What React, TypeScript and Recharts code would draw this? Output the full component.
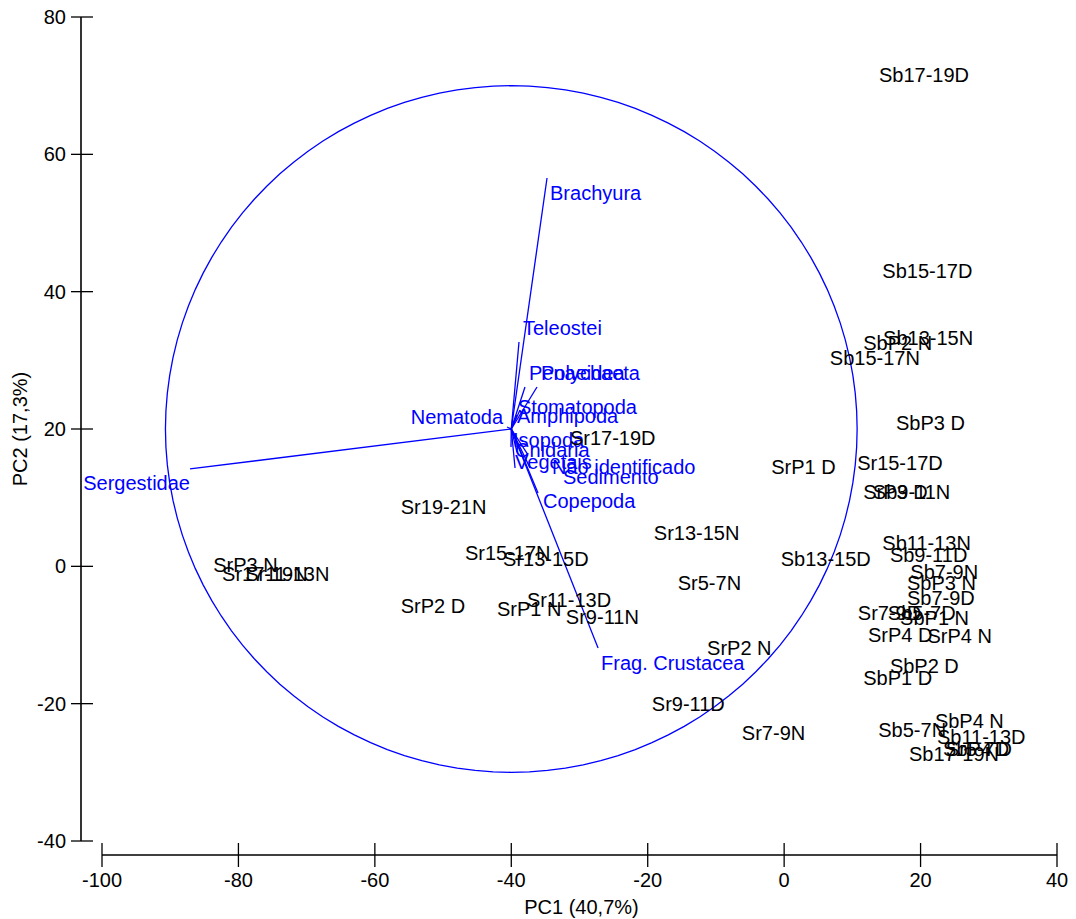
import React from 'react';
import { ScatterChart, Scatter, XAxis, YAxis, ReferenceLine } from 'recharts';

// ---- Sample scores (PC1, PC2) ----
const sampleNames = [
  'Sb17-19D', 'Sb15-17D', 'Sb13-15N', 'SbP2 N', 'Sb15-17N', 'SbP3 D', 'Sr15-17D', 'SrP3 D',
  'Sb9-11N', 'SrP1 D', 'Sr17-19D', 'Sr19-21N', 'Sr13-15N', 'Sb13-15D', 'Sb11-13N', 'Sb9-11D',
  'Sb7-9N', 'SbP3 N', 'Sb7-9D', 'Sr7-9D', 'Sb5-7D', 'SbP1 N', 'SrP4 D', 'SrP4 N',
  'SbP2 D', 'SbP1 D', 'SbP4 N', 'Sb5-7N', 'Sb11-13D', 'Sb17-19N', 'SbP4 D', 'Sr5-7D',
  'SrP3 N', 'Sr17-19N', 'Sr11-13N', 'SrP2 D', 'Sr15-17N', 'Sr13-15D', 'Sr11-13D', 'SrP1 N',
  'Sr9-11N', 'Sr5-7N', 'SrP2 N', 'Sr9-11D', 'Sr7-9N',
];
const samplePC1 = [
  13.9, 14.4, 14.5, 11.6, 6.7, 16.4, 10.7, 11.6,
  13.0, -1.9, -31.4, -56.2, -19.1, -0.5, 14.4, 15.5,
  18.5, 18.0, 18.0, 10.8, 15.2, 17.0, 12.3, 21.0,
  15.5, 11.6, 22.1, 13.8, 22.4, 18.3, 23.3, 23.7,
  -83.7, -82.4, -79.0, -56.2, -46.8, -41.2, -37.7, -42.1,
  -32.0, -15.6, -11.3, -19.4, -6.2,
];
const samplePC2 = [
  71.6, 43.0, 33.3, 32.5, 30.3, 20.9, 15.1, 10.8,
  10.8, 14.5, 18.7, 8.6, 4.9, 1.1, 3.4, 1.7,
  -0.8, -2.4, -4.6, -6.8, -6.8, -7.5, -10.0, -10.1,
  -14.5, -16.3, -22.5, -23.8, -24.8, -27.3, -26.6, -26.6,
  0.2, -1.1, -1.1, -5.8, 2.0, 1.1, -4.9, -6.2,
  -7.4, -2.4, -11.9, -20.0, -24.3,
];

// ---- Variable vectors (end points, drawn from the circle centre) ----
const variableNames = [
  'Sergestidae', 'Brachyura', 'Teleostei', 'Penaeidea', 'Polychaeta', 'Stomatopoda', 'Amphipoda',
  'Nematoda', 'Isopoda', 'Cnidaria', 'Vegetais', 'Não identificado', 'Sedimento', 'Copepoda',
  'Frag. Crustacea',
];
const variablePC1 = [
  -87.1, -34.76, -38.87, -37.99, -36.23, -38.72, -39.16,
  -40.62, -40.04, -39.16, -39.45, -37.55, -37.25, -36.08,
  -27.28,
];
const variablePC2 = [
  14.18, 56.55, 32.67, 26.12, 26.12, 22.77, 22.04,
  20.29, 17.38, 16.65, 14.32, 16.22, 14.32, 10.68,
  -11.89,
];

// ---- Correlation circle ----
const circleCenterPC1 = -40;
const circleCenterPC2 = 20;
const circleRadiusPC1 = 50.7;
const circleRadiusPC2 = 50;

// ---- Axes ----
const xTicks = [-100, -80, -60, -40, -20, 0, 20, 40];
const yTicks = [-40, -20, 0, 20, 40, 60, 80];
const xTitle = 'PC1 (40,7%)';
const yTitle = 'PC2 (17,3%)';

// ---- styles ----
const BLUE = '#0000ff';
const FONT = '"Liberation Sans", Arial, Helvetica, sans-serif';
const FS = 20;
const X_PAD = 21;
const Y_PAD = 14;

// label placement for each vector label: [dx, dy, anchor]
const vectorLabelStyle: [number, number, 'start' | 'end'][] = [
  [0, 14, 'end'], [3, 15, 'start'], [4, -14, 'start'], [4, -14, 'start'], [4, -14, 'start'],
  [-2, -3, 'start'], [0, 1, 'start'], [-4, -10, 'end'], [2, -7, 'start'], [-2, -2, 'start'],
  [0, -6, 'start'], [24, 12, 'start'], [33, 9, 'start'], [5, 8, 'start'], [3, 15, 'start'],
];

const sampleData = sampleNames.map((name, i) => ({ name, x: samplePC1[i], y: samplePC2[i] }));
const variableData = variableNames.map((name, i) => ({ name, i, x: variablePC1[i], y: variablePC2[i] }));
const circleData = Array.from({ length: 121 }, (_, k) => {
  const a = (k / 120) * 2 * Math.PI;
  return { x: circleCenterPC1 + circleRadiusPC1 * Math.cos(a), y: circleCenterPC2 + circleRadiusPC2 * Math.sin(a) };
});

const SampleLabel = (props: any) => {
  const { cx, cy, payload } = props;
  return (
    <text x={cx} y={cy} dominantBaseline="central" fontFamily={FONT} fontSize={FS} fill="#000">
      {payload.name}
    </text>
  );
};

const VariableLabel = (props: any) => {
  const { cx, cy, payload } = props;
  const [dx, dy, anchor] = vectorLabelStyle[payload.i];
  return (
    <text x={cx + dx} y={cy + dy} textAnchor={anchor} dominantBaseline="central" fontFamily={FONT} fontSize={FS} fill={BLUE}>
      {payload.name}
    </text>
  );
};

const XTick = (props: any) => {
  const { x, y, payload } = props;
  return (
    <g>
      <line x1={x} x2={x} y1={y - 26} y2={y - 2} stroke="#000" strokeWidth={1.3} />
      <text x={x} y={y + 11} textAnchor="middle" dominantBaseline="central" fontFamily={FONT} fontSize={FS} fill="#000">
        {payload.value}
      </text>
    </g>
  );
};

const YTick = (props: any) => {
  const { x, y, payload } = props;
  return (
    <g>
      <line x1={x + 4} x2={x + 26} y1={y} y2={y} stroke="#000" strokeWidth={1.3} />
      <text x={x - 1} y={y} textAnchor="end" dominantBaseline="central" fontFamily={FONT} fontSize={FS} fill="#000">
        {payload.value}
      </text>
    </g>
  );
};

const XTitle = (props: any) => {
  const vb = props.viewBox || { x: 81, y: 855, width: 976, height: 64 };
  return (
    <text x={vb.x + X_PAD + (vb.width - X_PAD) / 2 + 2} y={vb.y + 52} textAnchor="middle" dominantBaseline="central" fontFamily={FONT} fontSize={FS} fill="#000">
      {xTitle}
    </text>
  );
};

const YTitle = (props: any) => {
  const vb = props.viewBox || { x: 0, y: 17, width: 81, height: 838 };
  const cx = vb.x + 20;
  const cy = vb.y + (vb.height - Y_PAD) / 2;
  return (
    <text x={cx} y={cy} transform={`rotate(-90 ${cx} ${cy})`} textAnchor="middle" dominantBaseline="central" fontFamily={FONT} fontSize={FS} fill="#000">
      {yTitle}
    </text>
  );
};

const Empty = () => <g />;

export default function App() {
  return (
    <div>
      <style>{'body{margin:0;background:#fff}'}</style>
      <ScatterChart width={1076} height={919} margin={{ top: 17, right: 19, bottom: 0, left: 0 }}>
        <XAxis
          type="number"
          dataKey="x"
          domain={[-100, 40]}
          ticks={xTicks}
          padding={{ left: X_PAD, right: 0 }}
          height={64}
          tickSize={12}
          tickMargin={2}
          tickLine={false}
          axisLine={{ stroke: '#000', strokeWidth: 1.6, strokeDasharray: `0 ${X_PAD} 3000` }}
          tick={<XTick />}
          label={<XTitle />}
        />
        <YAxis
          type="number"
          dataKey="y"
          domain={[-40, 80]}
          ticks={yTicks}
          padding={{ top: 0, bottom: Y_PAD }}
          width={81}
          tickSize={11}
          tickMargin={3}
          tickLine={false}
          axisLine={{ stroke: '#000', strokeWidth: 1.6, strokeDasharray: `824 3000` }}
          tick={<YTick />}
          label={<YTitle />}
        />
        <Scatter
          data={circleData}
          line={{ stroke: BLUE, strokeWidth: 1.3 }}
          lineType="joint"
          shape={<Empty />}
          isAnimationActive={false}
        />
        {variableData.map((v) => (
          <ReferenceLine
            key={v.name}
            segment={[{ x: circleCenterPC1, y: circleCenterPC2 }, { x: v.x, y: v.y }]}
            stroke={BLUE}
            strokeWidth={1.3}
            ifOverflow="visible"
          />
        ))}
        <Scatter data={variableData} shape={<VariableLabel />} isAnimationActive={false} />
        <Scatter data={sampleData} shape={<SampleLabel />} isAnimationActive={false} />
      </ScatterChart>
    </div>
  );
}
